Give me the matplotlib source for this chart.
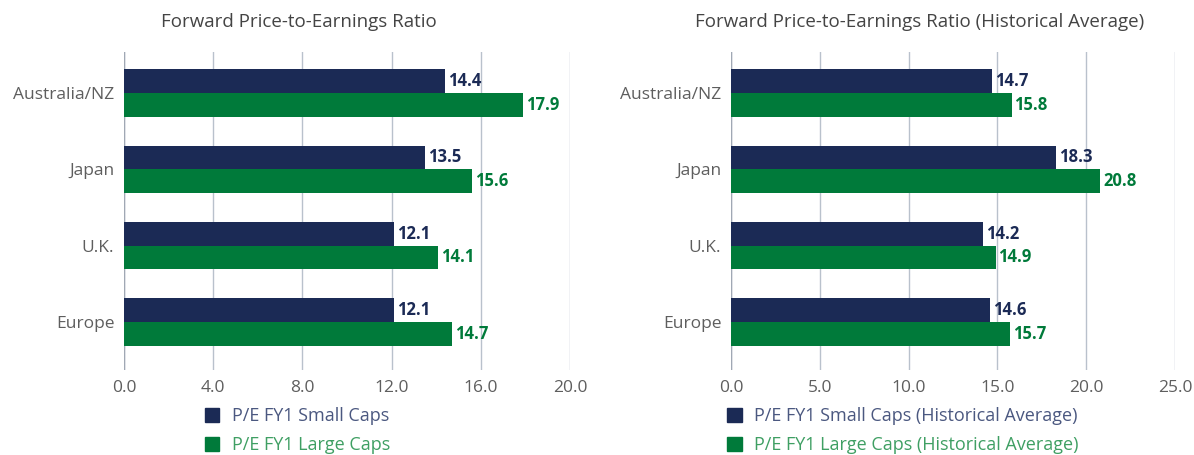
import matplotlib
matplotlib.use("Agg")
import matplotlib.pyplot as plt
import numpy as np
from matplotlib.patches import Patch

regions = ["Australia/NZ", "Japan", "U.K.", "Europe"]
small_caps = [14.4, 13.5, 12.1, 12.1]
large_caps = [17.9, 15.6, 14.1, 14.7]
small_caps_hist = [14.7, 18.3, 14.2, 14.6]
large_caps_hist = [15.8, 20.8, 14.9, 15.7]

left_ticks = [0, 4, 8, 12, 16, 20]
right_ticks = [0, 5, 10, 15, 20, 25]

NAVY = "#1b2a55"
GREEN = "#007a3a"
NAVY_TXT = "#4b5880"
GREEN_TXT = "#3f9f63"
GRID = "#b9c1cc"
TICK = "#5e5e5e"

plt.rcParams['font.family'] = ['Open Sans', 'DejaVu Sans']

fig = plt.figure(figsize=(11.94, 4.55), dpi=100)

def make_panel(rect, s_vals, l_vals, ticks, title, title_x, labels, leg_x):
    ax = fig.add_axes(rect)
    y = np.arange(len(regions))
    h = 0.31
    ax.barh(y - h/2, s_vals, height=h, color=NAVY, zorder=3)
    ax.barh(y + h/2, l_vals, height=h, color=GREEN, zorder=3)
    for yi, v in zip(y, s_vals):
        ax.annotate(f"{v:.1f}", (v, yi - h/2), xytext=(2, 0), textcoords="offset points",
                    va="center", ha="left", color=NAVY, fontsize=12, fontweight="bold")
    for yi, v in zip(y, l_vals):
        ax.annotate(f"{v:.1f}", (v, yi + h/2), xytext=(2, 0), textcoords="offset points",
                    va="center", ha="left", color=GREEN, fontsize=12, fontweight="bold")
    ax.set_xlim(ticks[0], ticks[-1])
    ax.set_ylim(3.63, -0.537)
    ax.set_xticks(ticks)
    ax.set_xticklabels([f"{t:.1f}" for t in ticks], fontsize=12.5, color=TICK)
    ax.set_yticks(y)
    ax.set_yticklabels(regions, fontsize=12.5, color=TICK)
    ax.tick_params(axis="both", length=0, pad=7)
    ax.xaxis.grid(True, color=GRID, linewidth=1, zorder=0)
    for sp in ax.spines.values():
        sp.set_visible(False)
    ax.axvline(ticks[0], color="#a0a8b4", linewidth=1, zorder=2)
    fig.text(title_x, 0.952, title, ha="center", va="center", fontsize=13.5, color="#444444")
    handles = [Patch(color=NAVY), Patch(color=GREEN)]
    ax.legend(handles, labels, loc="upper left", bbox_to_anchor=(leg_x, -0.095),
              frameon=False, handlelength=0.8, handleheight=0.8,
              handletextpad=0.7, labelspacing=0.6, borderaxespad=0,
              labelcolor=[NAVY_TXT, GREEN_TXT], prop={'size': 13})
    return ax

make_panel([124/1194, 1 - 370/455, (570-124)/1194, 318/455], small_caps, large_caps, left_ticks,
           "Forward Price-to-Earnings Ratio", 299/1194,
           ["P/E FY1 Small Caps", "P/E FY1 Large Caps"], 0.165)
make_panel([731/1194, 1 - 370/455, (1175-731)/1194, 318/455], small_caps_hist, large_caps_hist, right_ticks,
           "Forward Price-to-Earnings Ratio (Historical Average)", 920/1194,
           ["P/E FY1 Small Caps (Historical Average)", "P/E FY1 Large Caps (Historical Average)"], -0.025)

fig.savefig("out.png", dpi=100)
